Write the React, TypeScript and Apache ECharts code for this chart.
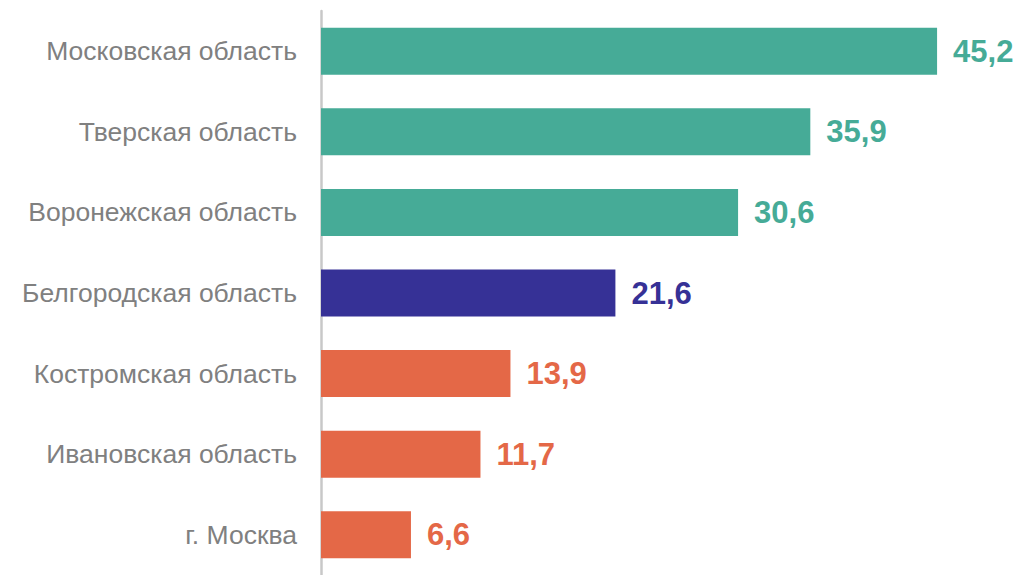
import React, { useEffect, useRef } from "react";
import * as echarts from "echarts";

const categories = [
  "Московская область",
  "Тверская область",
  "Воронежская область",
  "Белгородская область",
  "Костромская область",
  "Ивановская область",
  "г. Москва",
];
const values = [45.2, 35.9, 30.6, 21.6, 13.9, 11.7, 6.6];
const colors = ["#46AB97", "#46AB97", "#46AB97", "#363196", "#E46847", "#E46847", "#E46847"];

export default function App() {
  const ref = useRef<HTMLDivElement>(null);
  useEffect(() => {
    const chart = echarts.init(ref.current!, null, { renderer: "svg" });
    chart.setOption({
      animation: false,
      grid: { left: 321, top: 11, width: 681.5, height: 569, containLabel: false },
      xAxis: {
        type: "value",
        min: 0,
        max: 50,
        show: false,
      },
      yAxis: {
        type: "category",
        data: categories,
        inverse: true,
        axisLine: { show: true, lineStyle: { color: "#C8C8C8", width: 2.5 } },
        axisTick: { show: false },
        axisLabel: {
          color: "#808080",
          fontSize: 26.5,
          fontFamily: "Liberation Sans, Arial, sans-serif",
          margin: 24,
        },
      },
      series: [
        {
          type: "bar",
          barWidth: 47,
          data: values.map((v, i) => ({
            value: v,
            itemStyle: { color: colors[i] },
            label: { color: colors[i] },
          })),
          label: {
            show: true,
            position: "right",
            distance: 16,
            fontSize: 31,
            fontWeight: "bold",
            fontFamily: "Liberation Sans, Arial, sans-serif",
            formatter: (p: any) => String(p.value).replace(".", ","),
          },
        },
      ],
    });
    return () => chart.dispose();
  }, []);
  return <div ref={ref} style={{ width: 1020, height: 575, position: "absolute", left: 0, top: 0 }} />;
}
